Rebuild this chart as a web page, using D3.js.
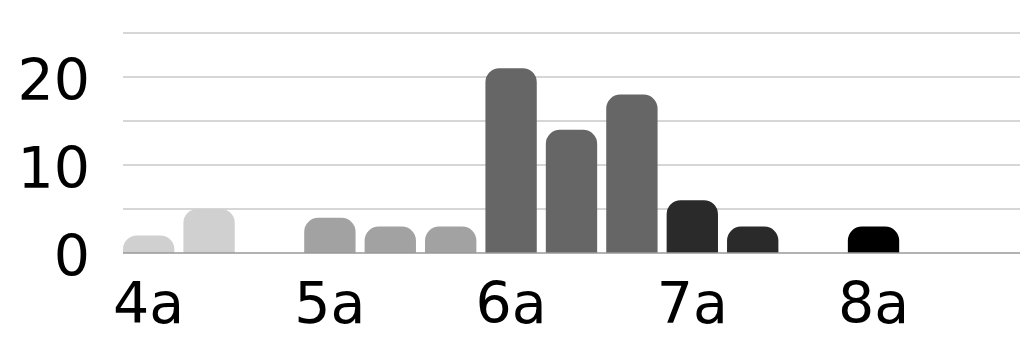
<!DOCTYPE html>
<html><head><meta charset="utf-8">
<script src="https://cdn.jsdelivr.net/npm/d3@7"></script>
<style>html,body{margin:0;padding:0;background:#fff;}svg{display:block;}</style>
</head><body>
<svg id="c" width="1036" height="344"></svg>
<script>
const slots = ["4:00","4:20","4:40","5:00","5:20","5:40","6:00","6:20","6:40","7:00","7:20","7:40","8:00","8:20","8:40"];
const values = [2,5,0,4,3,3,21,14,18,6,3,0,3,0,0];
const hourOf = ["4a","4a","4a","5a","5a","5a","6a","6a","6a","7a","7a","7a","8a","8a","8a"];
const tickSlots = ["4:00","5:00","6:00","7:00","8:00"];
const tickNames = ["4a","5a","6a","7a","8a"];
const hourColors = {"4a":"#d0d0d0","5a":"#a2a2a2","6a":"#666666","7a":"#2a2a2a","8a":"#000000"};
const yTicks = [0,10,20];
const gridTicks = [5,10,15,20,25];

const svg = d3.select("#c");
const x = d3.scaleBand().domain(slots).range([123,1020]).paddingInner(0.15).paddingOuter(0);
const y = d3.scaleLinear().domain([0,25]).range([253,33]);
const font = "DejaVu Sans, sans-serif";

svg.append("g").selectAll("line").data(gridTicks).join("line")
  .attr("x1",123).attr("x2",1020).attr("y1",d=>y(d)).attr("y2",d=>y(d))
  .attr("stroke","#c8c8c8").attr("stroke-width",1.5);

const bars = slots.map((s,i)=>({slot:s, value:values[i], hour:hourOf[i]})).filter(d=>d.value>0);

function barPath(d){
  const x0 = x(d.slot), w = x.bandwidth(), y0 = y(0), yt = y(d.value);
  const h = y0 - yt;
  const r = Math.min(14, h, w/2);
  return `M${x0},${y0}V${yt+r}A${r},${r} 0 0 1 ${x0+r},${yt}H${x0+w-r}A${r},${r} 0 0 1 ${x0+w},${yt+r}V${y0}Z`;
}
svg.append("g").selectAll("path").data(bars).join("path")
  .attr("d",barPath)
  .attr("fill",d=>hourColors[d.hour]);

svg.append("line").attr("x1",123).attr("x2",1020).attr("y1",y(0)).attr("y2",y(0))
  .attr("stroke","#999").attr("stroke-width",1.5);

const yAxis = d3.axisLeft(y).tickValues(yTicks).tickSize(0).tickPadding(0);
const gy = svg.append("g").attr("transform","translate(90,0)").call(yAxis);
gy.select(".domain").remove();
gy.selectAll("text").attr("font-family",font).attr("font-size",57).attr("fill","#000").attr("dy","0.4em");

const xAxis = d3.axisBottom(x).tickValues(tickSlots).tickFormat(d=>tickNames[tickSlots.indexOf(d)]).tickSize(0).tickPadding(0);
const gx = svg.append("g").attr("transform","translate(0,253)").call(xAxis);
gx.select(".domain").remove();
gx.selectAll("text").attr("font-family",font).attr("font-size",57).attr("fill","#000").attr("dy",null).attr("y",70);
</script>
</body></html>
